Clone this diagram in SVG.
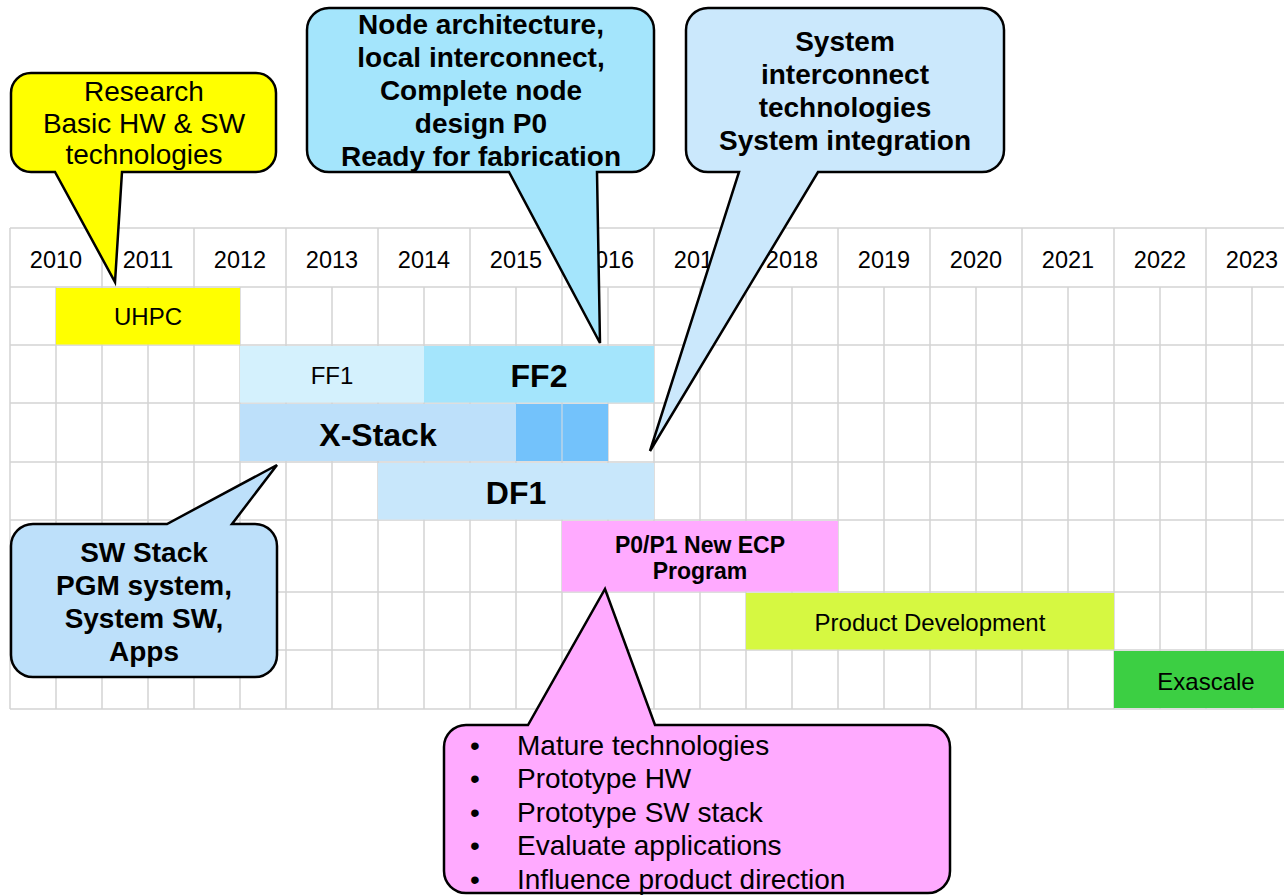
<svg xmlns="http://www.w3.org/2000/svg" width="1284" height="895" viewBox="0 0 1284 895">
<style>
.g{stroke:#d3d3d3;stroke-width:1.5;fill:none}
.yr{font-family:"Liberation Sans",Arial,sans-serif;font-size:23.5px;fill:#000;text-anchor:middle}
.lb{font-family:"Liberation Sans",Arial,sans-serif;font-size:24px;fill:#000;text-anchor:middle}
.lbb{font-family:"Liberation Sans",Arial,sans-serif;font-size:32px;font-weight:bold;fill:#000;text-anchor:middle}
.pb{font-family:"Liberation Sans",Arial,sans-serif;font-size:23px;font-weight:bold;fill:#000;text-anchor:middle}
.co{stroke:#000;stroke-width:2.5;stroke-linejoin:miter}
.ct{font-family:"Liberation Sans",Arial,sans-serif;font-size:28px;fill:#000;text-anchor:middle}
.ctb{font-family:"Liberation Sans",Arial,sans-serif;font-size:28px;font-weight:bold;fill:#000;text-anchor:middle}
.bt{font-family:"Liberation Sans",Arial,sans-serif;font-size:28px;fill:#000}
</style>
<rect width="1284" height="895" fill="#fff"/>
<g id="grid">
<path class="g" d="M10,228H1284M10,287H1284M10,345H1284M10,403H1284M10,462H1284M10,520H1284M10,592H1284M10,650H1284M10,709H1284"/>
<path class="g" d="M10,228V709M102,228V709M194,228V709M286,228V709M378,228V709M470,228V709M562,228V709M654,228V709M746,228V709M838,228V709M930,228V709M1022,228V709M1114,228V709M1206,228V709"/>
<path class="g" d="M56,287V709M148,287V709M240,287V709M332,287V709M424,287V709M516,287V709M608,287V709M700,287V709M792,287V709M884,287V709M976,287V709M1068,287V709M1160,287V709M1252,287V709"/>
</g>
<g id="years">
<text class="yr" x="56" y="268">2010</text>
<text class="yr" x="148" y="268">2011</text>
<text class="yr" x="240" y="268">2012</text>
<text class="yr" x="332" y="268">2013</text>
<text class="yr" x="424" y="268">2014</text>
<text class="yr" x="516" y="268">2015</text>
<text class="yr" x="608" y="268">2016</text>
<text class="yr" x="700" y="268">2017</text>
<text class="yr" x="792" y="268">2018</text>
<text class="yr" x="884" y="268">2019</text>
<text class="yr" x="976" y="268">2020</text>
<text class="yr" x="1068" y="268">2021</text>
<text class="yr" x="1160" y="268">2022</text>
<text class="yr" x="1252" y="268">2023</text>
</g>
<g id="uhpc"><rect x="56" y="288" width="184" height="56.5" fill="#ffff00"/><text class="lb" x="148" y="325">UHPC</text></g>
<g id="ff1"><rect x="240" y="346" width="184" height="56.5" fill="#d4f1fd"/><text class="lb" x="332" y="384">FF1</text></g>
<g id="ff2"><rect x="424" y="346" width="230" height="56.5" fill="#a4e5fc"/><text class="lbb" x="539" y="387">FF2</text></g>
<g id="xstack"><rect x="240" y="404" width="276" height="57" fill="#bde0fa"/><rect x="516" y="404" width="45.5" height="57" fill="#73c2fb"/><rect x="562.5" y="404" width="45.5" height="57" fill="#73c2fb"/><text class="lbb" x="378" y="446">X-Stack</text></g>
<g id="df1"><rect x="378" y="463" width="276" height="56.5" fill="#c8e7fb"/><text class="lbb" x="516" y="504">DF1</text></g>
<g id="p0p1"><rect x="562" y="521" width="276" height="70.5" fill="#ffaaff"/><text class="pb" x="700" y="553">P0/P1 New ECP</text><text class="pb" x="700" y="579">Program</text></g>
<g id="proddev"><rect x="746" y="593" width="368" height="56.5" fill="#d6f841"/><text class="lb" x="930" y="631">Product Development</text></g>
<g id="exascale"><rect x="1114" y="651" width="170" height="57" fill="#3ccf43"/><text class="lb" x="1206" y="690">Exascale</text></g>
<g id="callouts">
<g id="c-research"><path class="co" fill="#ffff00" d="M31,73H256A20,20 0 0 1 276,93V152A20,20 0 0 1 256,172H122L115,282L55,172H31A20,20 0 0 1 11,152V93A20,20 0 0 1 31,73Z"/>
<text class="ct" x="144" y="101">Research</text><text class="ct" x="144" y="133">Basic HW &amp; SW</text><text class="ct" x="144" y="164">technologies</text></g>
<g id="c-node"><path class="co" fill="#a4e5fc" d="M329,8H632A22,22 0 0 1 654,30V150A22,22 0 0 1 632,172H597L600,343L509,172H329A22,22 0 0 1 307,150V30A22,22 0 0 1 329,8Z"/>
<text class="ctb" x="481" y="34">Node architecture,</text><text class="ctb" x="481" y="67">local interconnect,</text><text class="ctb" x="481" y="100">Complete node</text><text class="ctb" x="481" y="133">design P0</text><text class="ctb" x="481" y="166">Ready for fabrication</text></g>
<g id="c-system"><path class="co" fill="#cbe8fc" d="M708,8H982A22,22 0 0 1 1004,30V150A22,22 0 0 1 982,172H818L650,451L739,172H708A22,22 0 0 1 686,150V30A22,22 0 0 1 708,8Z"/>
<text class="ctb" x="845" y="51">System</text><text class="ctb" x="845" y="84">interconnect</text><text class="ctb" x="845" y="117">technologies</text><text class="ctb" x="845" y="150">System integration</text></g>
<g id="c-sw"><path class="co" fill="#bde0fa" d="M33,524H167L277,465L232,524H255A22,22 0 0 1 277,546V655A22,22 0 0 1 255,677H33A22,22 0 0 1 11,655V546A22,22 0 0 1 33,524Z"/>
<text class="ctb" x="144" y="562">SW Stack</text><text class="ctb" x="144" y="595">PGM system,</text><text class="ctb" x="144" y="628">System SW,</text><text class="ctb" x="144" y="661">Apps</text></g>
<g id="c-p0"><path class="co" fill="#ffaaff" d="M466,725H528L605,589L655,725H928A22,22 0 0 1 950,747V871A22,22 0 0 1 928,893H466A22,22 0 0 1 444,871V747A22,22 0 0 1 466,725Z"/>
<text class="bt" x="470" y="755">•</text><text class="bt" x="517" y="755">Mature technologies</text>
<text class="bt" x="470" y="788">•</text><text class="bt" x="517" y="788">Prototype HW</text>
<text class="bt" x="470" y="822">•</text><text class="bt" x="517" y="822">Prototype SW stack</text>
<text class="bt" x="470" y="855">•</text><text class="bt" x="517" y="855">Evaluate applications</text>
<text class="bt" x="470" y="889">•</text><text class="bt" x="517" y="889">Influence product direction</text></g>
</g>
</svg>
